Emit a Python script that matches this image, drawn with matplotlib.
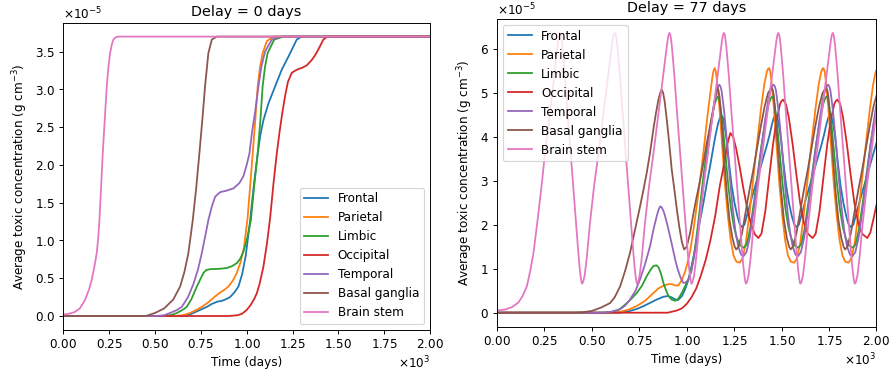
import matplotlib
matplotlib.use("Agg")
import matplotlib.pyplot as plt

SCALE = 1e-5
labels = ["Frontal", "Parietal", "Limbic", "Occipital", "Temporal", "Basal ganglia", "Brain stem"]
colors = ["tab:blue", "tab:orange", "tab:green", "tab:red", "tab:purple", "tab:brown", "tab:pink"]

# ---------------- Delay = 0 days (values in 1e-5 g cm^-3, time in days) ----------------
d0_frontal_t = [0, 650, 690, 709, 745, 782, 810, 840, 864, 885, 909, 932, 955, 975, 995, 1018, 1040, 1060, 1075, 1091, 1118, 1155, 1191, 1237, 1273, 1300, 2000]
d0_frontal_v = [0, 0, 0.02, 0.04, 0.08, 0.12, 0.16, 0.19, 0.2, 0.22, 0.25, 0.31, 0.39, 0.55, 0.8, 1.25, 1.75, 2.15, 2.4, 2.59, 2.81, 3.04, 3.26, 3.48, 3.66, 3.7, 3.7]

d0_parietal_t = [0, 600, 650, 691, 725, 755, 790, 828, 855, 880, 900, 925, 946, 965, 985, 1005, 1020, 1033, 1047, 1060, 1073, 1087, 1110, 1145, 2000]
d0_parietal_v = [0, 0, 0.01, 0.04, 0.08, 0.12, 0.18, 0.26, 0.31, 0.35, 0.39, 0.47, 0.57, 0.7, 0.9, 1.3, 1.75, 2.15, 2.6, 3.04, 3.3, 3.48, 3.64, 3.7, 3.7]

d0_limbic_t = [0, 550, 590, 619, 650, 673, 700, 728, 750, 764, 780, 800, 850, 891, 920, 946, 965, 982, 1000, 1023, 1040, 1060, 1075, 1087, 1100, 1114, 1150, 1200, 2000]
d0_limbic_v = [0, 0, 0.015, 0.04, 0.08, 0.12, 0.23, 0.39, 0.5, 0.57, 0.61, 0.62, 0.625, 0.635, 0.66, 0.7, 0.76, 0.85, 1.0, 1.27, 1.7, 2.15, 2.6, 3.04, 3.3, 3.48, 3.66, 3.7, 3.7]

d0_occipital_t = [0, 900, 950, 975, 1000, 1020, 1040, 1055, 1070, 1091, 1110, 1128, 1146, 1164, 1180, 1195, 1210, 1225, 1246, 1265, 1282, 1305, 1328, 1355, 1375, 1391, 1418, 1440, 2000]
d0_occipital_v = [0, 0, 0.01, 0.03, 0.08, 0.14, 0.22, 0.3, 0.42, 0.65, 0.95, 1.3, 1.75, 2.15, 2.45, 2.7, 2.92, 3.1, 3.22, 3.25, 3.27, 3.29, 3.32, 3.39, 3.46, 3.53, 3.66, 3.7, 3.7]

d0_temporal_t = [0, 500, 550, 582, 620, 646, 680, 709, 735, 755, 775, 791, 810, 828, 855, 890, 928, 960, 982, 1000, 1015, 1030, 1046, 1064, 1080, 1100, 1137, 1180, 2000]
d0_temporal_v = [0, 0, 0.01, 0.04, 0.08, 0.12, 0.25, 0.42, 0.62, 0.83, 1.07, 1.27, 1.45, 1.58, 1.64, 1.66, 1.69, 1.76, 1.85, 2.0, 2.15, 2.45, 2.7, 3.04, 3.3, 3.5, 3.66, 3.7, 3.7]

d0_basal_t = [0, 450, 500, 550, 600, 637, 660, 682, 706, 725, 742, 760, 773, 791, 810, 837, 2000]
d0_basal_v = [0, 0, 0.04, 0.1, 0.22, 0.39, 0.58, 0.83, 1.27, 1.7, 2.15, 2.65, 3.04, 3.48, 3.66, 3.7, 3.7]

d0_stem_t = [0, 30, 60, 90, 118, 140, 155, 170, 182, 190, 197, 206, 215, 226, 237, 246, 255, 265, 273, 285, 300, 2000]
d0_stem_v = [0.02, 0.03, 0.05, 0.1, 0.21, 0.35, 0.48, 0.66, 0.83, 1.02, 1.27, 1.7, 2.15, 2.6, 3.04, 3.3, 3.48, 3.6, 3.66, 3.69, 3.7, 3.7]

# ---------------- Delay = 77 days ----------------
d77_frontal_t = [0, 650, 701, 740, 772, 810, 842, 875, 900, 920, 940, 955, 975, 991, 1005, 1018, 1035, 1053, 1070, 1088, 1105, 1123, 1137, 1150, 1165, 1175,
                 1182, 1190, 1198, 1210, 1222, 1237, 1252, 1267, 1279, 1291, 1304, 1322, 1342, 1362, 1382, 1402, 1422, 1437, 1450, 1460,
                 1469, 1477, 1485, 1497, 1509, 1524, 1539, 1554, 1566, 1578, 1591, 1609, 1629, 1649, 1669, 1689, 1709, 1724, 1737, 1747,
                 1756, 1764, 1772, 1784, 1796, 1811, 1826, 1841, 1853, 1865, 1878, 1896, 1916, 1936, 1956, 1976, 1996, 2000]
d77_frontal_v = [0, 0, 0.04, 0.09, 0.15, 0.23, 0.3, 0.36, 0.38, 0.35, 0.3, 0.29, 0.38, 0.53, 0.7, 0.91, 1.25, 1.67, 2.1, 2.5, 2.92, 3.33, 3.68, 4.0, 4.3, 4.44,
                 4.5, 4.45, 4.3, 3.95, 3.45, 2.9, 2.5, 2.2, 2.02, 1.95, 2.0, 2.28, 2.6, 2.9, 3.2, 3.5, 3.8, 4.05, 4.3, 4.45,
                 4.5, 4.45, 4.3, 3.95, 3.45, 2.9, 2.5, 2.2, 2.02, 1.95, 2.0, 2.28, 2.6, 2.9, 3.2, 3.5, 3.8, 4.05, 4.3, 4.45,
                 4.5, 4.45, 4.3, 3.95, 3.45, 2.9, 2.5, 2.2, 2.02, 1.95, 2.0, 2.28, 2.6, 2.9, 3.2, 3.5, 3.8, 3.86]

d77_parietal_t = [0, 600, 650, 700, 740, 780, 810, 850, 880, 905, 921, 940, 956, 975, 991, 1005, 1018, 1031, 1044, 1058, 1071, 1084, 1097, 1110, 1123, 1135, 1141,
                  1147, 1153, 1159, 1172, 1187, 1202, 1217, 1232, 1247, 1262, 1280, 1295, 1312, 1332, 1352, 1372, 1392, 1409, 1422, 1428,
                  1434, 1440, 1446, 1459, 1474, 1489, 1504, 1519, 1534, 1549, 1567, 1582, 1599, 1619, 1639, 1659, 1679, 1696, 1709, 1715,
                  1721, 1727, 1733, 1746, 1761, 1776, 1791, 1806, 1821, 1836, 1854, 1869, 1886, 1906, 1926, 1946, 1966, 1983, 1996, 2000]
d77_parietal_v = [0, 0, 0.02, 0.08, 0.16, 0.27, 0.39, 0.55, 0.62, 0.65, 0.65, 0.62, 0.62, 0.75, 0.93, 1.15, 1.4, 1.75, 2.15, 2.6, 3.05, 3.5, 4.0, 4.5, 4.95, 5.35, 5.5,
                  5.57, 5.5, 5.3, 4.7, 3.8, 2.9, 2.2, 1.65, 1.3, 1.16, 1.14, 1.25, 1.6, 2.3, 3.1, 3.9, 4.65, 5.2, 5.48, 5.55,
                  5.57, 5.5, 5.3, 4.7, 3.8, 2.9, 2.2, 1.65, 1.3, 1.16, 1.14, 1.25, 1.6, 2.3, 3.1, 3.9, 4.65, 5.2, 5.48, 5.55,
                  5.57, 5.5, 5.3, 4.7, 3.8, 2.9, 2.2, 1.65, 1.3, 1.16, 1.14, 1.25, 1.6, 2.3, 3.1, 3.9, 4.65, 5.2, 5.48, 5.52]

d77_limbic_t = [0, 550, 600, 640, 666, 700, 737, 765, 789, 810, 824, 840, 852, 865, 877, 890, 904, 920, 939, 956, 974, 991, 1009, 1025, 1040, 1055, 1070, 1085, 1100, 1115, 1130, 1147, 1158,
                1164, 1170, 1176, 1189, 1204, 1219, 1234, 1249, 1264, 1282, 1301, 1316, 1334, 1354, 1374, 1394, 1414, 1432, 1445,
                1451, 1457, 1463, 1476, 1491, 1506, 1521, 1536, 1551, 1569, 1588, 1603, 1621, 1641, 1661, 1681, 1701, 1719, 1732,
                1738, 1744, 1750, 1763, 1778, 1793, 1808, 1823, 1838, 1856, 1875, 1890, 1908, 1928, 1948, 1968, 1988, 2000]
d77_limbic_v = [0, 0, 0.01, 0.06, 0.15, 0.28, 0.45, 0.62, 0.83, 0.98, 1.06, 1.08, 1.03, 0.88, 0.68, 0.52, 0.38, 0.3, 0.27, 0.32, 0.45, 0.6, 0.75, 1.0, 1.35, 1.85, 2.4, 3.0, 3.5, 4.0, 4.4, 4.75, 4.88,
                4.92, 4.88, 4.75, 4.3, 3.6, 2.9, 2.35, 1.95, 1.7, 1.53, 1.48, 1.55, 1.9, 2.5, 3.15, 3.8, 4.35, 4.75, 4.9,
                4.92, 4.88, 4.75, 4.3, 3.6, 2.9, 2.35, 1.95, 1.7, 1.53, 1.48, 1.55, 1.9, 2.5, 3.15, 3.8, 4.35, 4.75, 4.9,
                4.92, 4.88, 4.75, 4.3, 3.6, 2.9, 2.35, 1.95, 1.7, 1.53, 1.48, 1.55, 1.9, 2.5, 3.15, 3.8, 4.35, 4.57]

d77_occipital_t = [0, 900, 948, 975, 1000, 1025, 1050, 1075, 1100, 1125, 1150, 1175, 1200, 1215, 1230, 1245, 1260, 1280, 1300, 1320, 1340, 1360, 1378,
                   1394, 1414, 1434, 1454, 1474, 1492, 1500, 1508, 1523, 1538, 1558, 1578, 1598, 1618, 1638, 1664,
                   1680, 1700, 1720, 1740, 1760, 1778, 1786, 1794, 1809, 1824, 1844, 1864, 1884, 1904, 1924, 1952,
                   1968, 1988, 2000]
d77_occipital_v = [0, 0, 0.05, 0.1, 0.2, 0.35, 0.55, 0.85, 1.2, 1.65, 2.2, 2.9, 3.45, 3.85, 4.09, 4.0, 3.75, 3.3, 2.8, 2.35, 2.0, 1.78, 1.7,
                   1.8, 2.3, 3.05, 3.8, 4.4, 4.75, 4.82, 4.85, 4.75, 4.45, 3.85, 3.15, 2.5, 2.05, 1.8, 1.7,
                   1.8, 2.3, 3.05, 3.8, 4.4, 4.75, 4.82, 4.85, 4.75, 4.45, 3.85, 3.15, 2.5, 2.05, 1.8, 1.7,
                   1.82, 2.2, 2.45]

d77_temporal_t = [0, 550, 600, 649, 675, 701, 730, 754, 780, 807, 825, 842, 852, 860, 868, 877, 886, 899, 912, 926, 939, 952, 965, 975, 983, 992, 1009, 1025, 1040, 1060, 1080, 1100, 1120, 1140, 1158, 1166,
                  1172, 1178, 1184, 1197, 1212, 1227, 1242, 1257, 1272, 1287, 1300, 1315, 1332, 1352, 1372, 1392, 1412, 1430, 1445, 1453,
                  1459, 1465, 1471, 1484, 1499, 1514, 1529, 1544, 1559, 1574, 1587, 1602, 1619, 1639, 1659, 1679, 1699, 1717, 1732, 1740,
                  1746, 1752, 1758, 1771, 1786, 1801, 1816, 1831, 1846, 1861, 1874, 1889, 1906, 1926, 1946, 1966, 1986, 2000]
d77_temporal_v = [0, 0, 0.02, 0.08, 0.16, 0.3, 0.5, 0.76, 1.1, 1.52, 1.9, 2.2, 2.35, 2.42, 2.4, 2.32, 2.2, 1.98, 1.74, 1.47, 1.21, 1.0, 0.83, 0.73, 0.68, 0.68, 0.75, 0.95, 1.3, 1.9, 2.6, 3.3, 4.0, 4.6, 5.05, 5.15,
                  5.19, 5.15, 5.05, 4.6, 3.9, 3.1, 2.4, 1.85, 1.5, 1.32, 1.29, 1.38, 1.7, 2.3, 3.0, 3.7, 4.35, 4.85, 5.1, 5.17,
                  5.19, 5.15, 5.05, 4.6, 3.9, 3.1, 2.4, 1.85, 1.5, 1.32, 1.29, 1.38, 1.7, 2.3, 3.0, 3.7, 4.35, 4.85, 5.1, 5.17,
                  5.19, 5.15, 5.05, 4.6, 3.9, 3.1, 2.4, 1.85, 1.5, 1.32, 1.29, 1.38, 1.7, 2.3, 3.0, 3.7, 4.35, 4.74]

d77_basal_t = [0, 400, 450, 500, 550, 596, 620, 649, 675, 701, 728, 754, 772, 789, 807, 824, 838, 851, 860, 868, 876, 884, 895, 908, 921, 935, 948, 961, 974, 986, 1000, 1018, 1035, 1053, 1070, 1088, 1105, 1123, 1140, 1152,
               1161, 1167, 1173, 1183, 1196, 1211, 1226, 1241, 1253, 1261, 1273, 1291, 1311, 1331, 1351, 1371, 1391, 1411, 1429, 1442,
               1448, 1454, 1460, 1470, 1483, 1498, 1513, 1528, 1540, 1548, 1560, 1578, 1598, 1618, 1638, 1658, 1678, 1698, 1716, 1729,
               1735, 1741, 1747, 1757, 1770, 1785, 1800, 1815, 1827, 1835, 1847, 1865, 1885, 1905, 1925, 1945, 1965, 1985, 2000]
d77_basal_v = [0, 0, 0.01, 0.04, 0.12, 0.22, 0.35, 0.6, 0.95, 1.36, 1.9, 2.42, 2.8, 3.18, 3.65, 4.17, 4.55, 4.85, 5.0, 5.08, 5.0, 4.8, 4.39, 3.85, 3.26, 2.8, 2.35, 1.95, 1.62, 1.44, 1.5, 1.82, 2.25, 2.65, 3.0, 3.41, 3.85, 4.24, 4.65, 4.95,
               5.11, 5.07, 4.92, 4.4, 3.6, 2.75, 2.1, 1.7, 1.5, 1.44, 1.5, 1.8, 2.3, 2.8, 3.25, 3.75, 4.25, 4.7, 5.0, 5.09,
               5.11, 5.07, 4.92, 4.4, 3.6, 2.75, 2.1, 1.7, 1.5, 1.44, 1.5, 1.8, 2.3, 2.8, 3.25, 3.75, 4.25, 4.7, 5.0, 5.09,
               5.11, 5.07, 4.92, 4.4, 3.6, 2.75, 2.1, 1.7, 1.5, 1.44, 1.5, 1.8, 2.3, 2.8, 3.25, 3.75, 4.25, 4.7, 4.93]

d77_stem_t = [0, 40, 80, 112, 135, 157, 175, 192, 214, 235, 253, 275, 295, 312, 322, 327,
              332, 337, 344, 357, 372, 388, 402, 415, 427, 436, 443, 448, 454, 462, 473, 489, 512, 535, 557, 579, 597, 609, 614,
              622, 627, 634, 647, 662, 678, 692, 705, 717, 726, 733, 738, 744, 752, 763, 779, 802, 825, 847, 869, 887, 899, 904,
              909, 914, 921, 934, 949, 965, 979, 992, 1004, 1013, 1020, 1025, 1031, 1039, 1050, 1066, 1089, 1112, 1134, 1156, 1174, 1186, 1191,
              1196, 1201, 1208, 1221, 1236, 1252, 1266, 1279, 1291, 1300, 1307, 1312, 1318, 1326, 1337, 1353, 1376, 1399, 1421, 1443, 1461, 1473, 1478,
              1483, 1488, 1495, 1508, 1523, 1539, 1553, 1566, 1578, 1587, 1594, 1599, 1605, 1613, 1624, 1640, 1663, 1686, 1708, 1730, 1748, 1760, 1765,
              1770, 1775, 1782, 1795, 1810, 1826, 1840, 1853, 1865, 1874, 1881, 1886, 1892, 1900, 1911, 1927, 1950, 1973, 1995, 2000]
d77_stem_v = [0.05, 0.07, 0.13, 0.23, 0.38, 0.6, 0.95, 1.36, 2.12, 2.9, 3.64, 4.4, 5.15, 5.8, 6.2, 6.32,
              6.37, 6.32, 6.1, 5.45, 4.55, 3.64, 2.85, 2.12, 1.45, 1.0, 0.75, 0.66, 0.7, 0.85, 1.25, 2.0, 2.9, 3.64, 4.4, 5.15, 5.8, 6.2, 6.32,
              6.37, 6.32, 6.1, 5.45, 4.55, 3.64, 2.85, 2.12, 1.45, 1.0, 0.75, 0.66, 0.7, 0.85, 1.25, 2.0, 2.9, 3.64, 4.4, 5.15, 5.8, 6.2, 6.32,
              6.37, 6.32, 6.1, 5.45, 4.55, 3.64, 2.85, 2.12, 1.45, 1.0, 0.75, 0.66, 0.7, 0.85, 1.25, 2.0, 2.9, 3.64, 4.4, 5.15, 5.8, 6.2, 6.32,
              6.37, 6.32, 6.1, 5.45, 4.55, 3.64, 2.85, 2.12, 1.45, 1.0, 0.75, 0.66, 0.7, 0.85, 1.25, 2.0, 2.9, 3.64, 4.4, 5.15, 5.8, 6.2, 6.32,
              6.37, 6.32, 6.1, 5.45, 4.55, 3.64, 2.85, 2.12, 1.45, 1.0, 0.75, 0.66, 0.7, 0.85, 1.25, 2.0, 2.9, 3.64, 4.4, 5.15, 5.8, 6.2, 6.32,
              6.37, 6.32, 6.1, 5.45, 4.55, 3.64, 2.85, 2.12, 1.45, 1.0, 0.75, 0.66, 0.7, 0.85, 1.25, 2.0, 2.9, 3.64, 4.4, 4.57]

panel0 = [(d0_frontal_t, d0_frontal_v), (d0_parietal_t, d0_parietal_v), (d0_limbic_t, d0_limbic_v),
          (d0_occipital_t, d0_occipital_v), (d0_temporal_t, d0_temporal_v), (d0_basal_t, d0_basal_v),
          (d0_stem_t, d0_stem_v)]
panel77 = [(d77_frontal_t, d77_frontal_v), (d77_parietal_t, d77_parietal_v), (d77_limbic_t, d77_limbic_v),
           (d77_occipital_t, d77_occipital_v), (d77_temporal_t, d77_temporal_v), (d77_basal_t, d77_basal_v),
           (d77_stem_t, d77_stem_v)]
titles = ["Delay = 0 days", "Delay = 77 days"]

DPI = 86
fig = plt.figure(figsize=(894 / DPI + 0.001, 379 / DPI + 0.001), dpi=DPI)
ax0 = fig.add_axes([63.3 / 894, 49 / 379, 366.7 / 894, 307.3 / 379])
ax1 = fig.add_axes([497 / 894, 52.3 / 379, 379.3 / 894, 307.7 / 379])

for ax, data, title, loc in [(ax0, panel0, titles[0], "lower right"), (ax1, panel77, titles[1], "upper left")]:
    for (t, v), lab, c in zip(data, labels, colors):
        ax.plot(t, [x * SCALE for x in v], color=c, label=lab, lw=1.5)
    ax.set_xlim(0, 2000)
    ax.ticklabel_format(style="sci", axis="both", scilimits=(0, 0), useMathText=True)
    ax.set_xlabel("Time (days)")
    ax.set_ylabel("Average toxic concentration (g cm$^{-3}$)")
    ax.set_title(titles and title)
    ax.legend(loc=loc)

fig.savefig("out.png", dpi=DPI)
